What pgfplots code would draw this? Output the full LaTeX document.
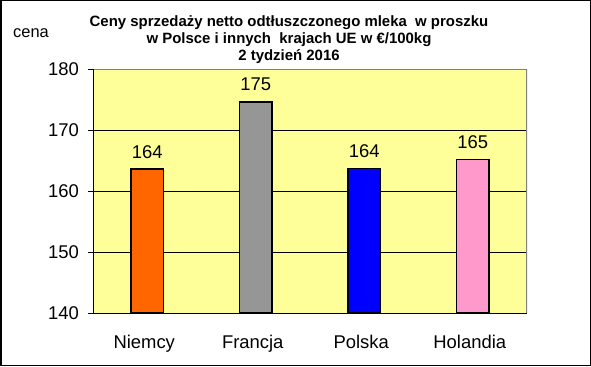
\documentclass[border=0pt]{standalone}
\usepackage{fontspec}
\setmainfont{Liberation Sans}
\usepackage{pgfplots}
\pgfplotsset{compat=1.18}
\definecolor{bgyellow}{RGB}{255,255,153}
\definecolor{cOrange}{RGB}{255,102,0}
\definecolor{cGray}{RGB}{150,150,150}
\definecolor{cBlue}{RGB}{0,0,255}
\definecolor{cPink}{RGB}{255,153,204}
\definecolor{frameGray}{RGB}{128,128,128}
\begin{document}
\begin{tikzpicture}[x=1bp,y=1bp]
\useasboundingbox (0,0) rectangle (591,366);
\fill[white] (0,0) rectangle (591,366);
\draw[line width=1.5bp] (0.75,0.75) rectangle (590.25,365.25);
\node[anchor=base, font=\bfseries\fontsize{15}{15}\selectfont] at (289,340) {Ceny sprzeda\.zy netto odt\l uszczonego mleka\ \ w proszku};
\node[anchor=base, font=\bfseries\fontsize{15}{15}\selectfont] at (289,322.5) {w Polsce i innych\ \ krajach UE w €/100kg};
\node[anchor=base, font=\bfseries\fontsize{15}{15}\selectfont] at (289,306) {2 tydzień 2016};
\node[anchor=base west, inner sep=0, font=\fontsize{16.5}{16.5}\selectfont] at (13,329) {cena};
\begin{axis}[
  at={(93bp,53bp)}, anchor=south west,
  scale only axis, width=434bp, height=244bp,
  xmin=-0.5, xmax=3.5, ymin=140, ymax=180,
  axis background/.style={fill=bgyellow},
  axis line style={draw=none},
  ytick={140,150,160,170,180},
  ytick pos=left, xtick pos=bottom, tick align=outside,
  major tick length=5bp,
  tick style={black, line width=0.8bp},
  ymajorgrids, grid style={black, line width=0.8bp},
  xtick={0,1,2,3},
  xticklabels={Niemcy,Francja,Polska,Holandia},
  x tick style={draw=none},
  extra x ticks={0.5,1.5,2.5,3.5},
  extra x tick labels={},
  extra x tick style={major tick length=5bp, tick style={black, line width=0.8bp}, grid=none},
  /pgf/number format/assume math mode=true,
  yticklabel style={font=\fontsize{18.5}{18.5}\selectfont, anchor=east, inner sep=0pt, xshift=-9bp},
  xticklabel style={font=\fontsize{18.5}{18.5}\selectfont, anchor=base, inner sep=0pt, yshift=-30bp, xshift=-3bp},
  ybar, bar width=0.3, bar shift=0pt,
  nodes near coords,
  every node near coord/.append style={font=\fontsize{18.5}{18.5}\selectfont, anchor=base, yshift=11bp, inner sep=0pt, black},
  /pgf/number format/.cd, fixed, precision=0,
]
\addplot[fill=cOrange, draw=black, line width=1.2bp] coordinates {(0,163.6)};
\addplot[fill=cGray, draw=black, line width=1.2bp] coordinates {(1,174.6)};
\addplot[fill=cBlue, draw=black, line width=1.2bp] coordinates {(2,163.7)};
\addplot[fill=cPink, draw=black, line width=1.2bp] coordinates {(3,165.1)};
\draw[frameGray, line width=1.2bp] (rel axis cs:0,1) -- (rel axis cs:1,1) -- (rel axis cs:1,0);
\draw[black, line width=1bp] (rel axis cs:0,1) -- (rel axis cs:0,0) -- (rel axis cs:1,0);
\end{axis}
\end{tikzpicture}
\end{document}
